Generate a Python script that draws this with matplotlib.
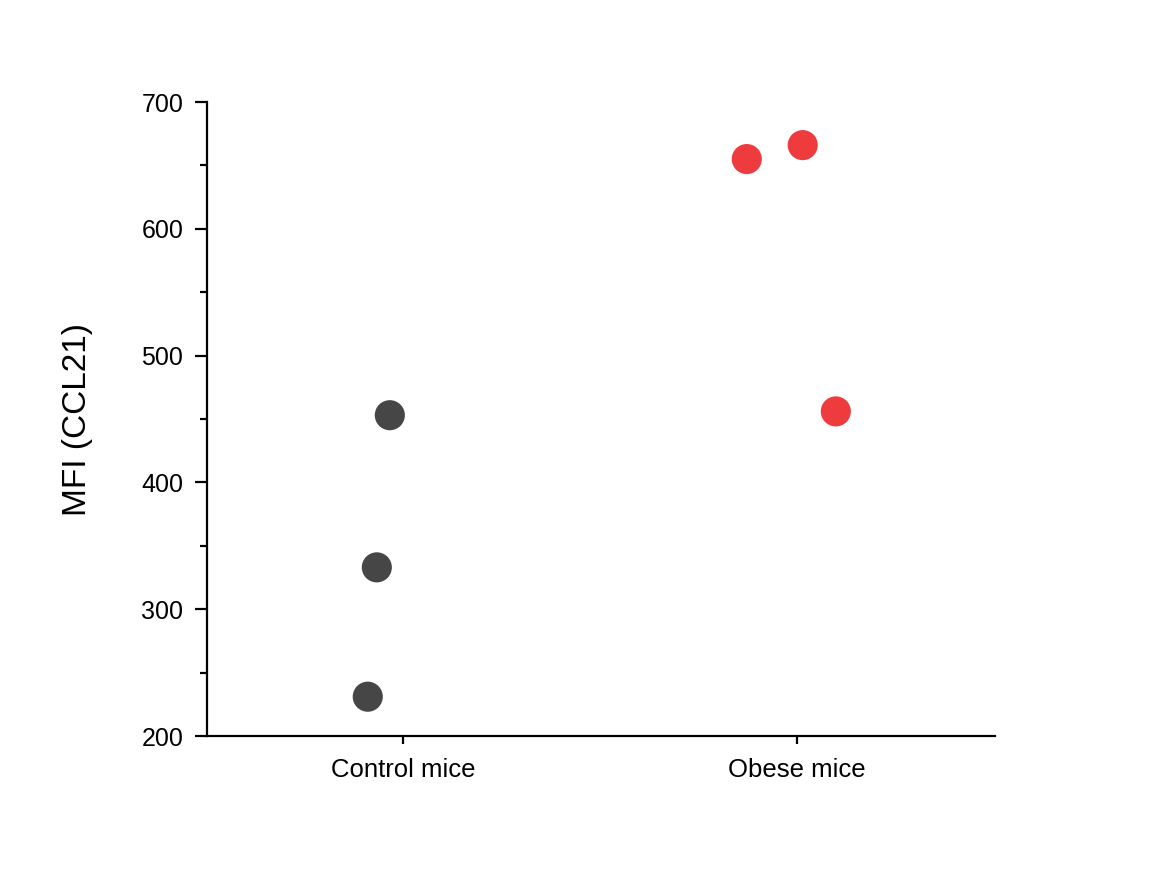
import matplotlib
matplotlib.use("Agg")
import matplotlib.pyplot as plt
from matplotlib.ticker import MultipleLocator

plt.rcParams['font.family'] = ['Liberation Sans', 'DejaVu Sans']

categories = ["Control mice", "Obese mice"]
control_values = [453, 333, 231]
obese_values = [655, 666, 456]
control_jitter = [-0.033, -0.066, -0.089]
obese_jitter = [-0.127, 0.015, 0.099]
y_ticks = [200, 300, 400, 500, 600, 700]
colors = ["#464646", "#EE3B3E"]

fig = plt.figure(figsize=(11.54, 8.83), dpi=100)
ax = fig.add_axes([207 / 1154, 1 - 736 / 883, (995 - 207) / 1154, (736 - 102) / 883])

groups = [control_values, obese_values]
jitters = [control_jitter, obese_jitter]
for i, (vals, jit) in enumerate(zip(groups, jitters)):
    xs = [i + j for j in jit]
    ax.scatter(xs, vals, s=470, marker='o', color=colors[i], edgecolors='none', zorder=3)

ax.set_xlim(-0.497, 1.503)
ax.set_ylim(200, 700)
ax.set_xticks(range(len(categories)))
ax.set_xticklabels(categories, fontsize=18.5)
ax.set_yticks(y_ticks)
ax.set_yticklabels([str(v) for v in y_ticks], fontsize=18)
ax.yaxis.set_minor_locator(MultipleLocator(50))
ax.set_ylabel("MFI (CCL21)", fontsize=24, labelpad=35)

for s in ['top', 'right']:
    ax.spines[s].set_visible(False)
for s in ['left', 'bottom']:
    ax.spines[s].set_linewidth(1.6)
ax.tick_params(axis='y', which='major', direction='out', length=9, width=1.6, pad=8)
ax.tick_params(axis='y', which='minor', direction='out', length=5, width=1.6)
ax.tick_params(axis='x', which='major', direction='out', length=6, width=1.6, pad=10)

fig.savefig("out.png", dpi=100, facecolor='white')
